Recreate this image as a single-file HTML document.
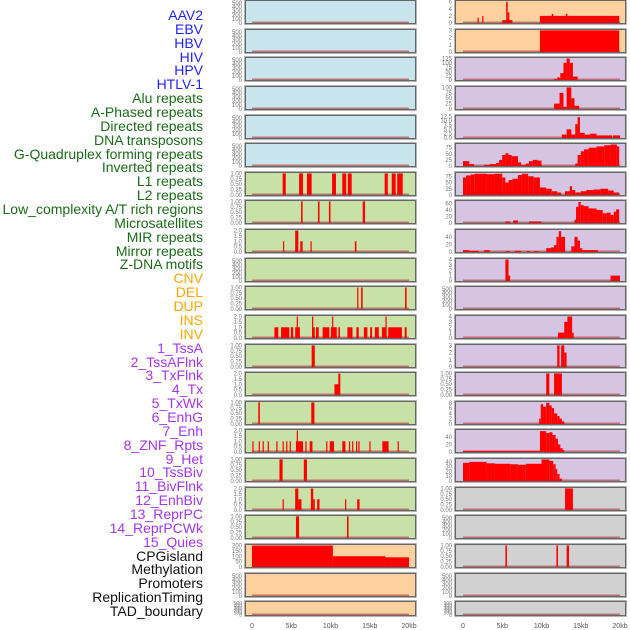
<!DOCTYPE html>
<html><head><meta charset="utf-8">
<style>
html,body{margin:0;padding:0;background:#fff;}
#wrap{position:relative;width:630px;height:630px;overflow:hidden;font-family:"Liberation Sans",sans-serif;}
.lab{position:absolute;right:427px;font-size:14px;line-height:14px;white-space:nowrap;}
svg{position:absolute;left:0;top:0;}
</style></head>
<body>
<div id="wrap">
<svg id="chart" width="630" height="630"></svg>
</div>
<script>
// ---- track labels ----
const labelNames = ["AAV2","EBV","HBV","HIV","HPV","HTLV-1","Alu repeats","A-Phased repeats","Directed repeats","DNA transposons","G-Quadruplex forming repeats","Inverted repeats","L1 repeats","L2 repeats","Low_complexity A/T rich regions","Microsatellites","MIR repeats","Mirror repeats","Z-DNA motifs","CNV","DEL","DUP","INS","INV","1_TssA","2_TssAFlnk","3_TxFlnk","4_Tx","5_TxWk","6_EnhG","7_Enh","8_ZNF_Rpts","9_Het","10_TssBiv","11_BivFlnk","12_EnhBiv","13_ReprPC","14_ReprPCWk","15_Quies","CPGisland","Methylation","Promoters","ReplicationTiming","TAD_boundary"];
const labelColors = ["#1f1fff","#1f1fff","#1f1fff","#1f1fff","#1f1fff","#1f1fff"].concat(Array(13).fill("#1a6b1a"),Array(5).fill("#ffa500"),Array(15).fill("#a535f0"),Array(5).fill("#111"));

// ---- x axis ----
const xTickValues = [0,5,10,15,20];
const xTickLabels = ["0","5kb","10kb","15kb","20kb"];

// ---- tick sets ----
const t500 = [0,100,200,300,400,500];
const t1 = [0,0.25,0.5,0.75,1];
const t1l = ["0.00","0.25","0.50","0.75","1.00"];
const t2 = [0,0.5,1,1.5,2];
const t2l = ["0.0","0.5","1.0","1.5","2.0"];

// ---- left column series ([startKb, endKb, value]) ----
const leftL1 = [[3.9,4.3,1],[6.0,6.5,1],[7.0,7.6,1],[10.2,10.7,1],[11.5,12.0,1],[12.2,12.7,1],[16.9,17.3,1],[17.8,18.3,1],[18.5,19.2,1]];
const leftL2 = [[6.25,6.45,1],[8.4,8.6,1],[9.8,10.0,1],[14.1,14.4,1]];
const leftLowAT = [[3.95,4.1,1],[5.5,5.9,2],[6.15,6.45,1],[7.45,7.6,1],[13.1,13.3,1]];
const leftMicro = [];
const leftMIR = [[13.4,13.55,1],[13.9,14.1,1],[19.5,19.7,1]];
const leftMirror = [[2.85,3.35,1],[3.7,4.75,1],[4.95,5.25,1],[5.5,6.1,1],[5.7,5.85,2],[7.65,8.0,1],[7.65,7.8,2],[8.15,8.5,1],[9.0,9.85,1],[10.05,10.8,1],[10.2,10.35,2],[11.0,11.2,1],[12.15,12.8,1],[13.3,13.6,1],[14.25,14.7,1],[15.05,15.3,1],[15.65,16.15,1],[16.55,17.15,1],[17.0,17.1,2],[17.35,19.1,1],[19.45,19.7,1]];
const leftZDNA = [[7.6,8.0,1]];
const leftCNV = [[10.5,11.2,1],[11.0,11.25,2]];
const leftDEL = [[0.8,1.0,1],[7.55,7.95,1]];
const leftDUP = [[0.05,0.2,1],[0.85,1.0,1],[1.35,1.5,1],[2.0,2.15,1],[3.1,3.25,1],[3.9,4.05,1],[4.35,4.5,1],[4.8,4.95,1],[5.6,6.5,1],[5.7,5.85,2],[6.8,6.95,1],[7.35,7.7,1],[9.45,9.6,1],[9.9,10.45,1],[11.5,11.9,1],[12.35,12.5,1],[12.75,12.9,1],[13.25,13.4,1],[13.55,13.7,1],[14.95,15.1,1],[16.6,17.4,1],[18.55,18.7,1]];
const leftINS = [[3.5,3.9,1],[6.6,7.0,1]];
const leftINV = [[3.9,4.05,1],[5.5,5.9,2],[5.9,6.3,1],[7.5,7.8,2],[7.8,8.0,1],[8.3,8.6,1],[11.85,12.0,1],[13.4,13.7,1]];
const leftTssA = [[5.6,6.0,1],[12.1,12.3,1]];
const leftTssAFlnk = [[0,10.3,200],[10.3,17.0,100],[17.0,20.0,90]];

// ---- right column series ----
const rightR1 = [[1.85,2.0,1.5],[2.45,2.6,2],[5.0,6.3,0.8],[5.5,5.7,6],[5.7,5.9,3],[9.8,19.9,2],[11.3,11.5,2.6],[13.1,13.3,2.6]];
const rightR2 = [[9.8,19.9,3]];
const rightR3 = [[11.6,12.0,5],[12.0,12.4,15],[12.4,12.8,40],[12.8,13.2,100],[13.2,13.6,125],[13.6,14.0,100],[14.0,14.6,20]];
const rightR4 = [[11.6,12.3,25],[12.3,12.8,75],[12.8,13.2,10],[13.2,13.8,100],[13.8,14.2,50],[14.2,14.8,15]];
const rightR5 = [[12.6,13.2,2],[13.2,13.8,5],[13.8,14.3,2],[14.3,14.6,8],[14.6,14.9,12],[14.9,15.5,3],[15.5,16.2,2],[16.2,17.0,2.5],[17.0,19.0,1.5],[19.1,20.0,1.5]];
const rightR6 = [[0,0.8,20],[0.8,1.4,8],[2.7,3.4,5],[3.4,4.2,8],[4.2,4.6,12],[4.6,5.0,25],[5.0,5.4,45],[5.4,5.8,52],[5.8,6.2,45],[6.2,7.0,40],[7.0,7.4,15],[7.4,8.0,5],[8.0,8.4,10],[8.4,8.9,20],[8.9,9.5,25],[9.5,10.0,22],[14.3,14.6,10],[14.6,15.0,45],[15.0,15.4,60],[15.4,16.0,68],[16.0,17.0,75],[17.0,18.0,80],[18.0,18.8,85],[18.8,19.6,88],[19.6,19.9,80]];
const rightR7 = [[0,0.4,70],[0.4,1.0,78],[1.0,1.5,82],[1.5,3.0,85],[3.0,4.0,83],[4.0,5.0,85],[5.0,5.4,70],[5.4,5.8,50],[5.8,6.3,60],[6.3,7.0,65],[7.0,7.5,80],[7.5,8.3,85],[8.3,9.0,75],[9.0,9.8,70],[9.8,10.6,30],[10.6,11.3,25],[11.3,12.0,15],[12.0,12.5,10],[13.0,13.6,15],[13.6,13.9,35],[13.9,14.3,20],[14.3,15.0,10],[15.0,15.7,15],[15.7,16.6,20],[16.6,17.5,22],[17.5,18.5,25],[18.5,19.2,18],[19.2,19.9,10]];
const rightR8 = [[5.4,6.0,5],[6.4,7.0,8],[8.4,10.0,5],[14.2,14.4,10],[14.4,14.7,50],[14.7,15.0,65],[15.0,15.4,55],[15.4,16.0,52],[16.0,17.0,45],[17.0,17.8,40],[17.8,18.3,30],[18.3,18.8,32],[18.8,19.2,25],[19.2,19.5,35],[19.5,19.9,42]];
const rightR9 = [[0,0.8,5],[0.8,2.0,3],[2.7,3.4,5],[5.4,6.0,2],[6.6,7.4,3],[8.1,8.6,2],[9.0,9.7,2],[10.6,11.2,10],[11.2,11.6,12],[11.6,11.9,18],[11.9,12.2,40],[12.2,12.5,55],[12.5,13.0,40],[13.8,14.2,15],[14.2,14.6,40],[14.6,14.9,30],[14.9,15.2,10],[15.2,17.2,5]];
const rightR10 = [[5.4,5.8,4],[5.8,6.0,1],[18.8,20.0,1]];
const rightR11 = [];
const rightR12 = [[12.1,12.9,1],[12.9,13.3,3],[13.3,13.9,4],[13.9,14.1,1]];
const rightR13 = [[12.0,12.3,3],[12.5,12.9,3],[12.9,13.2,2]];
const rightR14 = [[10.6,11.0,1],[11.6,12.6,1]];
const rightR15 = [[9.7,9.9,2],[9.9,10.2,7.5],[10.2,10.6,6.5],[10.6,11.0,8],[11.0,11.3,7],[11.3,11.6,6],[11.6,12.0,4],[12.0,12.3,3],[12.3,12.6,2],[12.6,12.9,1]];
const rightR16 = [[0,9.8,3],[9.8,10.6,55],[10.6,11.0,50],[11.0,11.4,52],[11.4,11.8,45],[11.8,12.1,35],[12.1,12.4,20],[12.4,12.7,10],[12.7,12.9,5]];
const rightR17 = [[0,0.8,38],[0.8,3.0,40],[3.0,4.0,37],[4.0,6.0,36],[6.0,7.0,35],[7.0,8.0,34],[8.0,10.0,36],[10.0,11.0,45],[11.0,11.5,42],[11.5,11.8,35],[11.8,12.0,25],[12.0,12.3,15],[12.3,12.6,5]];
const rightR18 = [[13.0,14.0,1]];
const rightR19 = [];
const rightR20 = [[5.4,5.6,1],[11.9,12.1,1],[13.2,13.5,1]];

const BLUE="#c8e4ec", GREEN="#c8e1a6", ORANGE="#ffd19e", PURPLE="#d5c5e2", GRAY="#d1d1d1";
const rowTops = [0,29,57,86,115,143,172,200,229,258,286,315,344,372,401,429,458,487,515,544,573,601];
const rowH = [24,24,24,24,24,24,24,24,24,24,24,24,24,24,24,24,24,24,24,24,24,15];

const leftPanels = [
 {n:"aav2-left",bg:BLUE,s:[],max:550,t:t500},
 {n:"ebv-left",bg:BLUE,s:[],max:550,t:t500},
 {n:"hbv-left",bg:BLUE,s:[],max:550,t:t500},
 {n:"hiv-left",bg:BLUE,s:[],max:550,t:t500},
 {n:"hpv-left",bg:BLUE,s:[],max:550,t:t500},
 {n:"htlv-left",bg:BLUE,s:[],max:550,t:t500},
 {n:"l1-left",bg:GREEN,s:leftL1,max:1.02,t:t1,tl:t1l},
 {n:"l2-left",bg:GREEN,s:leftL2,max:1.02,t:t1,tl:t1l},
 {n:"lowat-left",bg:GREEN,s:leftLowAT,max:2.05,t:t2,tl:t2l},
 {n:"micro-left",bg:GREEN,s:leftMicro,max:550,t:t500},
 {n:"mir-left",bg:GREEN,s:leftMIR,max:1.02,t:t1,tl:t1l},
 {n:"mirror-left",bg:GREEN,s:leftMirror,max:2.05,t:t2,tl:t2l},
 {n:"zdna-left",bg:GREEN,s:leftZDNA,max:1.02,t:t1,tl:t1l},
 {n:"cnv-left",bg:GREEN,s:leftCNV,max:2.05,t:t2,tl:t2l},
 {n:"del-left",bg:GREEN,s:leftDEL,max:1.02,t:t1,tl:t1l},
 {n:"dup-left",bg:GREEN,s:leftDUP,max:2.05,t:t2,tl:t2l},
 {n:"ins-left",bg:GREEN,s:leftINS,max:1.02,t:t1,tl:t1l},
 {n:"inv-left",bg:GREEN,s:leftINV,max:2.05,t:t2,tl:t2l},
 {n:"tssa-left",bg:GREEN,s:leftTssA,max:1.02,t:t1,tl:t1l},
 {n:"cpg-left",bg:ORANGE,s:leftTssAFlnk,max:205,t:[0,50,100,150,200]},
 {n:"methyl-left",bg:ORANGE,s:[],max:550,t:t500},
 {n:"promoter-left",bg:ORANGE,s:[],max:550,t:t500}
];
const rightPanels = [
 {n:"r1",bg:ORANGE,s:rightR1,max:6.2,t:[0,2,4,6]},
 {n:"r2",bg:ORANGE,s:rightR2,max:3.05,t:[0,1,2,3]},
 {n:"r3",bg:PURPLE,s:rightR3,max:128,t:[0,25,50,75,100,125]},
 {n:"r4",bg:PURPLE,s:rightR4,max:102,t:[0,25,50,75,100]},
 {n:"r5",bg:PURPLE,s:rightR5,max:12.7,t:[0,2.5,5,7.5,10,12.5],tl:["0.0","2.5","5.0","7.5","10.0","12.5"]},
 {n:"r6",bg:PURPLE,s:rightR6,max:90,t:[0,25,50,75]},
 {n:"r7",bg:PURPLE,s:rightR7,max:88,t:[0,25,50,75]},
 {n:"r8",bg:PURPLE,s:rightR8,max:68,t:[0,20,40,60]},
 {n:"r9",bg:PURPLE,s:rightR9,max:58,t:[0,20,40]},
 {n:"r10",bg:PURPLE,s:rightR10,max:4.1,t:[0,1,2,3,4]},
 {n:"r11",bg:PURPLE,s:rightR11,max:550,t:t500},
 {n:"r12",bg:PURPLE,s:rightR12,max:4.1,t:[0,1,2,3,4]},
 {n:"r13",bg:PURPLE,s:rightR13,max:3.05,t:[0,1,2,3]},
 {n:"r14",bg:PURPLE,s:rightR14,max:1.02,t:t1,tl:t1l},
 {n:"r15",bg:PURPLE,s:rightR15,max:8.3,t:[0,2,4,6,8]},
 {n:"r16",bg:PURPLE,s:rightR16,max:58,t:[0,20,40]},
 {n:"r17",bg:PURPLE,s:rightR17,max:46,t:[0,10,20,30,40]},
 {n:"r18",bg:GRAY,s:rightR18,max:1.02,t:t1,tl:t1l},
 {n:"r19",bg:GRAY,s:rightR19,max:550,t:t500},
 {n:"r20",bg:GRAY,s:rightR20,max:1.02,t:t1,tl:t1l},
 {n:"r21",bg:GRAY,s:[],max:550,t:t500},
 {n:"r22",bg:GRAY,s:[],max:550,t:t500}
];

const NS="http://www.w3.org/2000/svg";
const svg=document.getElementById("chart");
const wrap=document.getElementById("wrap");
function mk(tag,attrs,parent){const e=document.createElementNS(NS,tag);for(const k in attrs)e.setAttribute(k,attrs[k]);(parent||svg).appendChild(e);return e;}

labelNames.forEach((name,i)=>{
  const d=document.createElement("div");
  d.className="lab";
  d.style.top=(8+i*13.86)+"px";
  d.style.color=labelColors[i];
  d.textContent=name;
  
  
  wrap.appendChild(d);
});

function xScale(col,kb){const x0=col===0?252:463;return x0+kb*(157/20);}

function drawPanel(p,col,row){
  const top=rowTops[row],h=rowH[row];
  const px=col===0?245:455, pw=171;
  const g=mk("g",{});
  
  
  mk("rect",{x:px,y:top,width:pw,height:h,fill:p.bg,stroke:"#a0a0a0","stroke-width":1.6},g);
  mk("rect",{x:px+0.5,y:top+0.5,width:pw-1,height:h-1,fill:"none",stroke:"#666","stroke-width":1},g);
  const yb=top+h-1, yt=top+1;
  const yScale=v=>yb-(v/p.max)*(yb-yt);
  const bl=mk("rect",{x:xScale(col,0),y:yb-1.5,width:xScale(col,20)-xScale(col,0),height:1.5,fill:"#b5474a",opacity:0.7},g);
  
  
  p.s.forEach(seg=>{
    const x1=xScale(col,seg[0]),x2=xScale(col,seg[1]);
    const y=yScale(seg[2]);
    const r=mk("rect",{x:x1,y:y,width:Math.max(1.2,x2-x1),height:yb-y,fill:"#ff0000"},g);
    
    
  });
  const tx=col===0?242:452;
  p.t.forEach((v,i)=>{
    const t=mk("text",{x:tx,y:yScale(v)+2,"font-size":(h<20?5:6),fill:"#777","text-anchor":"end","font-family":"Liberation Sans, sans-serif"},g);
    t.textContent=p.tl?p.tl[i]:String(v);
    
    
  });
}
leftPanels.forEach((p,i)=>drawPanel(p,0,i));
rightPanels.forEach((p,i)=>drawPanel(p,1,i));

[0,1].forEach(col=>{
  xTickValues.forEach((v,i)=>{
    const t=mk("text",{x:xScale(col,v),y:628,"font-size":7,fill:"#555","text-anchor":"middle","font-family":"Liberation Sans, sans-serif"});
    t.textContent=xTickLabels[i];
    
    
  });
});
</script>
</body></html>
